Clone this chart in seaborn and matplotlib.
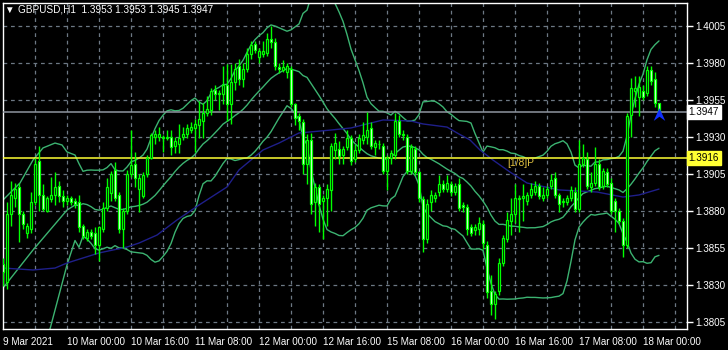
import numpy as np
import pandas as pd
import matplotlib
matplotlib.use("Agg")
import matplotlib.pyplot as plt
import seaborn as sns
from matplotlib.path import Path

sns.set_theme(style="dark")
plt.rcParams['font.family'] = ['Liberation Sans', 'DejaVu Sans']

opens = [1.3844,1.3832,1.3878,1.3889,1.3896,1.3878,1.3865,1.3868,1.3886,1.3914,
         1.3891,1.3880,1.3888,1.3891,1.3897,1.3890,1.3887,1.3889,1.3887,1.3886,
         1.3870,1.3862,1.3866,1.3865,1.3857,1.3868,1.3882,1.3892,1.3908,1.3891,
         1.3868,1.3880,1.3905,1.3912,1.3895,1.3890,1.3905,1.3916,1.3930,1.3930,
         1.3929,1.3930,1.3930,1.3924,1.3925,1.3930,1.3932,1.3935,1.3936,1.3938,
         1.3941,1.3946,1.3948,1.3962,1.3960,1.3959,1.3965,1.3952,1.3967,1.3978,
         1.3969,1.3976,1.3986,1.3993,1.3984,1.3986,1.3987,1.3996,1.3994,1.3977,
         1.3975,1.3974,1.3976,1.3952,1.3944,1.3940,1.3912,1.3928,1.3886,1.3896,
         1.3887,1.3889,1.3894,1.3921,1.3922,1.3918,1.3923,1.3929,1.3915,1.3921,
         1.3928,1.3930,1.3936,1.3923,1.3925,1.3924,1.3907,1.3916,1.3918,1.3941,
         1.3932,1.3930,1.3907,1.3922,1.3906,1.3888,1.3861,1.3886,1.3889,1.3893,
         1.3898,1.3895,1.3898,1.3893,1.3898,1.3884,1.3883,1.3869,1.3867,1.3868,
         1.3871,1.3857,1.3826,1.3817,1.3826,1.3845,1.3861,1.3873,1.3878,1.3888,
         1.3889,1.3887,1.3891,1.3893,1.3897,1.3889,1.3891,1.3897,1.3902,1.3891,
         1.3886,1.3886,1.3889,1.3893,1.3881,1.3912,1.3915,1.3896,1.3899,1.3912,
         1.3897,1.3906,1.3899,1.3887,1.3880,1.3873,1.3857,1.3945,1.3961,1.3957,
         1.3961,1.3960,1.3975,1.3969,1.3953]
highs = [1.3848,1.3886,1.3900,1.3899,1.3899,1.3880,1.3872,1.3893,1.3916,1.3924,
         1.3898,1.3890,1.3903,1.3906,1.3900,1.3894,1.3891,1.3890,1.3889,1.3891,
         1.3871,1.3868,1.3868,1.3869,1.3870,1.3886,1.3902,1.3907,1.3913,1.3893,
         1.3882,1.3908,1.3935,1.3920,1.3905,1.3906,1.3918,1.3933,1.3935,1.3937,
         1.3931,1.3935,1.3935,1.3930,1.3939,1.3937,1.3939,1.3940,1.3942,1.3954,
         1.3953,1.3958,1.3963,1.3965,1.3962,1.3978,1.3979,1.3979,1.3980,1.3983,
         1.3980,1.3990,1.3995,1.3995,1.3990,1.3995,1.4000,1.4005,1.3997,1.3980,
         1.3982,1.3980,1.3978,1.3953,1.3946,1.3942,1.3932,1.3933,1.3899,1.3898,
         1.3891,1.3898,1.3926,1.3933,1.3927,1.3924,1.3935,1.3931,1.3925,1.3932,
         1.3940,1.3947,1.3940,1.3928,1.3928,1.3926,1.3918,1.3921,1.3946,1.3945,
         1.3935,1.3932,1.3925,1.3924,1.3907,1.3890,1.3888,1.3894,1.3893,1.3904,
         1.3901,1.3904,1.3900,1.3899,1.3902,1.3886,1.3885,1.3871,1.3871,1.3876,
         1.3874,1.3860,1.3837,1.3826,1.3848,1.3864,1.3879,1.3889,1.3898,1.3891,
         1.3898,1.3893,1.3899,1.3900,1.3899,1.3896,1.3897,1.3905,1.3906,1.3892,
         1.3889,1.3891,1.3897,1.3896,1.3928,1.3925,1.3920,1.3906,1.3923,1.3915,
         1.3909,1.3909,1.3902,1.3889,1.3882,1.3875,1.3946,1.3970,1.3971,1.3971,
         1.3965,1.3978,1.3978,1.3974,1.3953]
lows = [1.3829,1.3827,1.3870,1.3883,1.3859,1.3868,1.3862,1.3865,1.3884,1.3880,
        1.3880,1.3879,1.3886,1.3884,1.3886,1.3883,1.3884,1.3884,1.3882,1.3866,
        1.3861,1.3860,1.3861,1.3851,1.3846,1.3866,1.3880,1.3887,1.3887,1.3865,
        1.3855,1.3878,1.3903,1.3896,1.3879,1.3889,1.3903,1.3915,1.3925,1.3927,
        1.3920,1.3928,1.3918,1.3919,1.3919,1.3928,1.3929,1.3933,1.3920,1.3929,
        1.3929,1.3944,1.3945,1.3955,1.3948,1.3952,1.3941,1.3939,1.3962,1.3965,
        1.3964,1.3974,1.3983,1.3987,1.3980,1.3984,1.3985,1.3990,1.3975,1.3973,
        1.3974,1.3970,1.3950,1.3938,1.3935,1.3905,1.3898,1.3878,1.3870,1.3866,
        1.3861,1.3870,1.3880,1.3915,1.3912,1.3912,1.3921,1.3911,1.3913,1.3919,
        1.3925,1.3925,1.3922,1.3918,1.3922,1.3905,1.3894,1.3912,1.3915,1.3930,
        1.3928,1.3905,1.3905,1.3904,1.3886,1.3852,1.3858,1.3880,1.3886,1.3890,
        1.3893,1.3893,1.3890,1.3891,1.3880,1.3879,1.3864,1.3863,1.3864,1.3864,
        1.3854,1.3821,1.3810,1.3807,1.3823,1.3843,1.3859,1.3864,1.3872,1.3866,
        1.3873,1.3884,1.3889,1.3891,1.3888,1.3887,1.3889,1.3895,1.3889,1.3879,
        1.3883,1.3884,1.3887,1.3879,1.3879,1.3910,1.3895,1.3893,1.3897,1.3894,
        1.3895,1.3896,1.3878,1.3866,1.3871,1.3849,1.3855,1.3930,1.3950,1.3944,
        1.3955,1.3958,1.3965,1.3950,1.3945]
closes = [1.3839,1.3878,1.3891,1.3895,1.3878,1.3871,1.3870,1.3886,1.3912,1.3891,
          1.3881,1.3889,1.3891,1.3896,1.3890,1.3887,1.3889,1.3886,1.3885,1.3869,
          1.3863,1.3866,1.3863,1.3857,1.3869,1.3882,1.3896,1.3905,1.3889,1.3868,
          1.3880,1.3905,1.3911,1.3902,1.3902,1.3904,1.3916,1.3931,1.3932,1.3932,
          1.3930,1.3929,1.3923,1.3927,1.3929,1.3932,1.3936,1.3937,1.3939,1.3942,
          1.3946,1.3949,1.3961,1.3959,1.3959,1.3965,1.3952,1.3967,1.3976,1.3969,
          1.3976,1.3986,1.3992,1.3989,1.3988,1.3988,1.3996,1.3994,1.3978,1.3976,
          1.3977,1.3978,1.3952,1.3943,1.3941,1.3912,1.3928,1.3885,1.3896,1.3885,
          1.3889,1.3895,1.3924,1.3926,1.3917,1.3922,1.3929,1.3914,1.3921,1.3929,
          1.3931,1.3935,1.3924,1.3926,1.3925,1.3907,1.3916,1.3919,1.3941,1.3932,
          1.3931,1.3907,1.3923,1.3906,1.3889,1.3861,1.3885,1.3891,1.3891,1.3898,
          1.3895,1.3899,1.3893,1.3897,1.3882,1.3883,1.3868,1.3865,1.3869,1.3872,
          1.3858,1.3825,1.3817,1.3824,1.3845,1.3862,1.3874,1.3878,1.3889,1.3889,
          1.3890,1.3891,1.3895,1.3897,1.3890,1.3891,1.3895,1.3901,1.3891,1.3885,
          1.3887,1.3889,1.3894,1.3881,1.3912,1.3916,1.3897,1.3899,1.3912,1.3896,
          1.3907,1.3898,1.3880,1.3880,1.3873,1.3857,1.3944,1.3963,1.3963,1.3964,
          1.3957,1.3975,1.3968,1.3953,1.3947]

# Bollinger band values at the left edge (before 20 bars are on screen)
bb_left_up_bar = [0, 2.5, 4.25, 7.5, 10, 13, 14.75, 16, 18]
bb_left_up = [1.38874, 1.38942, 1.38989, 1.39144, 1.39226, 1.39259, 1.39246, 1.39199, 1.39178]
bb_left_mid_bar = [0, 7.5, 11.75, 16, 18]
bb_left_mid = [1.38279, 1.38536, 1.38671, 1.38806, 1.38840]
bb_left_low_bar = [0, 11.75, 16, 18]
bb_left_low = [1.37684, 1.38002, 1.38435, 1.38600]

# slow moving average (blue), read at bar positions
ma_bar = [0, 7.5, 13, 16, 20, 24, 31, 34, 38.5, 43.5, 49, 56, 59, 65, 69, 74, 82, 87,
          95, 102, 105, 111, 114, 116.75, 119.25, 122.5, 126.75, 131, 139, 148.5, 155, 159, 164]
ma_val = [1.38414, 1.38401, 1.38414, 1.38448, 1.38482, 1.38516, 1.38556, 1.38583, 1.38637,
          1.38739, 1.38840, 1.38962, 1.39077, 1.39212, 1.39259, 1.39327, 1.39347, 1.39361,
          1.39415, 1.39408, 1.39388, 1.39367, 1.39320, 1.39280, 1.39212, 1.39144, 1.39063,
          1.38989, 1.38942, 1.38928, 1.38894, 1.38908, 1.38948]

y_ticks = [1.4005, 1.3980, 1.3955, 1.3930, 1.3905, 1.3880, 1.3855, 1.3830, 1.3805]
x_tick_bars = [0, 16, 32, 48, 64, 80, 96, 112, 128, 144, 160]
x_tick_labels = ["9 Mar 2021", "10 Mar 00:00", "10 Mar 16:00", "11 Mar 08:00", "12 Mar 00:00",
                 "12 Mar 16:00", "15 Mar 08:00", "16 Mar 00:00", "16 Mar 16:00",
                 "17 Mar 08:00", "18 Mar 00:00"]
symbol = "GBPUSD,H1"
bid_price = 1.3947
level_price = 1.3916
level_name = "[1/8]P"

df = pd.DataFrame({"o": opens, "h": highs, "l": lows, "c": closes})
df["bar"] = np.arange(len(df))
mid = df["c"].rolling(20).mean()
sd = df["c"].rolling(20).std(ddof=0)
upper = mid + 2 * sd
lower = mid - 2 * sd
start = 19
bars_tail = list(df["bar"][start:])


def band(left_x, left_y, series):
    return pd.DataFrame({"bar": list(left_x) + bars_tail,
                         "v": list(left_y) + list(series[start:])})


W, H = 728, 350
fig = plt.figure(figsize=(W / 100, H / 100), dpi=100, facecolor="black")
ax = fig.add_axes([2.5 / W, (H - 329) / H, 684.5 / W, (329 - 2.5) / H])
ax.set_facecolor("black")
ax.set_xlim(-0.125, 171)
ax.set_ylim(1.38002, 1.40209)

grid_c = "#6d7884"
for yv in y_ticks:
    ax.axhline(yv, color=grid_c, lw=0.9, ls=(0, (3, 3)), zorder=1)
for b in range(8, 171, 8):
    ax.axvline(b, color=grid_c, lw=0.9, ls=(0, (3, 3)), zorder=1)

bb_c = "#3cb371"
for lx, ly, s in [(bb_left_up_bar, bb_left_up, upper),
                  (bb_left_mid_bar, bb_left_mid, mid),
                  (bb_left_low_bar, bb_left_low, lower)]:
    d = band(lx, ly, s)
    sns.lineplot(data=d, x="bar", y="v", ax=ax, color=bb_c, lw=1, zorder=2,
                 estimator=None, sort=False)
sns.lineplot(x=ma_bar, y=ma_val, ax=ax, color="#1f1f8a", lw=1, zorder=2)

ax.axhline(level_price, color="#ffff33", lw=1.1, zorder=3)
ax.axhline(bid_price, color="#8f96a0", lw=1.1, zorder=3)

lime = "#00ff00"
ax.vlines(df["bar"], df["l"], df["h"], color=lime, lw=1, zorder=4)
bw = 0.62
for _, r in df.iterrows():
    lo, hi = min(r.o, r.c), max(r.o, r.c)
    face = "black" if r.c >= r.o else "white"
    ax.add_patch(plt.Rectangle((r.bar - bw / 2, lo), bw, max(hi - lo, 0.00003),
                               facecolor=face, edgecolor=lime, lw=0.9, zorder=5))

chev = Path([(0, 1), (0.9, -1), (0, -0.35), (-0.9, -1), (0, 1)],
            [Path.MOVETO, Path.LINETO, Path.LINETO, Path.LINETO, Path.CLOSEPOLY])
ax.scatter([164], [1.39458], marker=chev, s=85, color="#1030ff", zorder=6, lw=0)

ax.text(126.0, 1.39122, level_name, color="#e0c040", fontsize=7.4, zorder=6,
        va="center", ha="left")

for s in ["left", "top", "right", "bottom"]:
    ax.spines[s].set_color("white")
    ax.spines[s].set_linewidth(1)
ax.grid(False)
ax.yaxis.tick_right()
ax.set_yticks(y_ticks)
ax.set_yticklabels([f"{v:.4f}" for v in y_ticks])
ax.set_xticks(x_tick_bars)
ax.set_xticklabels(x_tick_labels, ha="left")
ax.tick_params(axis="both", colors="white", labelsize=7.1, length=4, width=1,
               direction="out", pad=2)
ax.tick_params(axis="y", pad=2)
ax.set_xlabel("")
ax.set_ylabel("")

for price, bg in [(bid_price, "white"), (level_price, "#ffff33")]:
    ax.text(1.0025, price, f"{price:.4f}", transform=ax.get_yaxis_transform(),
            color="black", fontsize=7.1, va="center", ha="left",
            bbox=dict(boxstyle="square,pad=0.2", facecolor=bg, edgecolor=bg), zorder=7)

fig.text(4 / W, 1 - 10 / H, "\u25bc", color="white", fontsize=7, va="center", ha="left")
fig.text(18 / W, 1 - 10 / H, f"{symbol}  1.3953 1.3953 1.3945 1.3947", color="white",
         fontsize=7.2, va="center", ha="left")

fig.savefig("out.png", dpi=100, facecolor="black")
